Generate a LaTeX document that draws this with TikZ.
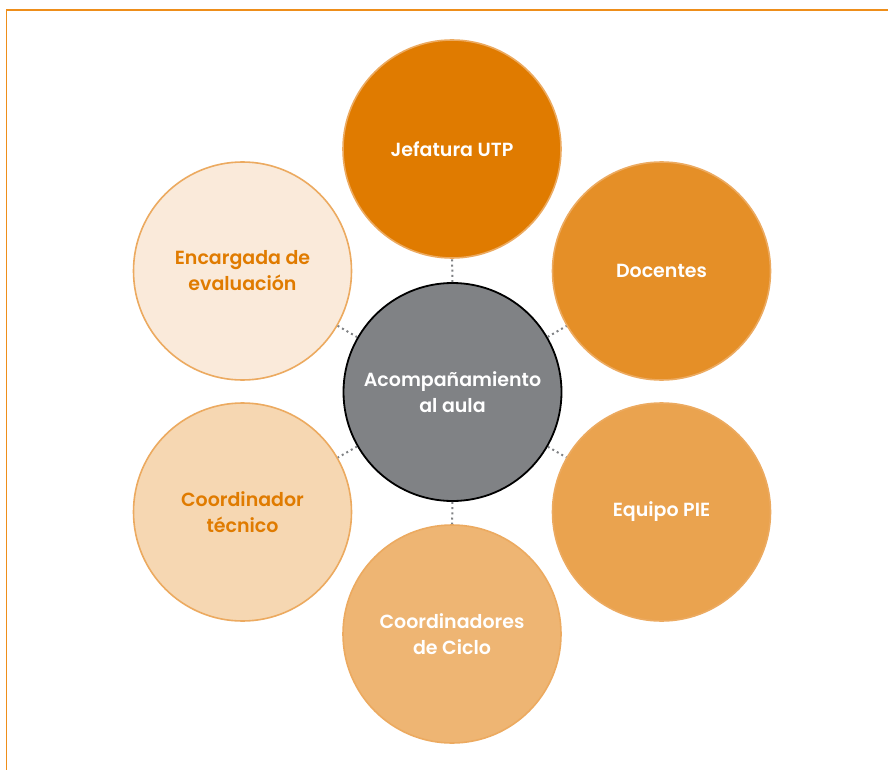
\documentclass[tikz,border=0pt]{standalone}
\usepackage{fontspec}
\setmainfont{Poppins}[BoldFont={Poppins SemiBold}]
\definecolor{frameor}{HTML}{EE8E1A}
\definecolor{cA}{HTML}{E07B00}
\definecolor{cB}{HTML}{E58F27}
\definecolor{cC}{HTML}{EAA34F}
\definecolor{cD}{HTML}{EEB573}
\definecolor{cE}{HTML}{F6D7B2}
\definecolor{cF}{HTML}{FAEADA}
\definecolor{rimor}{HTML}{ECAA60}
\definecolor{centgray}{HTML}{808285}
\definecolor{dotgray}{HTML}{808285}
\begin{document}
\begin{tikzpicture}[x=1pt,y=-1pt,
  bubble/.style={circle, minimum size=218pt, inner sep=0pt, draw=rimor, line width=1.6pt, align=center, font=\fontsize{19}{26}\selectfont\bfseries},
  hub/.style={circle, minimum size=218pt, inner sep=0pt, draw=black, line width=1.8pt, fill=centgray, text=white, align=center, font=\fontsize{19}{26}\selectfont\bfseries},
  link/.style={draw=dotgray, line width=2pt, dash pattern=on 2pt off 3.2pt}]
\useasboundingbox (0,0) rectangle (888,770);
\fill[white] (0,0) rectangle (888,770);
\draw[frameor, line width=1.6pt] (6.5,770) -- (6.5,10) -- (888,10);
\node[hub] (c) at (452.5,392) {Acompañamiento\\al aula};
\node[bubble, fill=cA, text=white] (n1) at (452,149) {Jefatura UTP};
\node[bubble, fill=cB, text=white] (n2) at (661.5,271) {Docentes};
\node[bubble, fill=cC, text=white] (n3) at (661.5,512) {Equipo PIE};
\node[bubble, fill=cD, text=white] (n4) at (452,634) {Coordinadores\\de Ciclo};
\node[bubble, fill=cE, text=cA] (n5) at (242.5,512) {Coordinador\\técnico};
\node[bubble, fill=cF, text=cA] (n6) at (242.5,271) {Encargada de\\evaluación};
\foreach \n in {n1,n2,n3,n4,n5,n6}{
  \path[link] (c) -- (\n);
}
\end{tikzpicture}
\end{document}
